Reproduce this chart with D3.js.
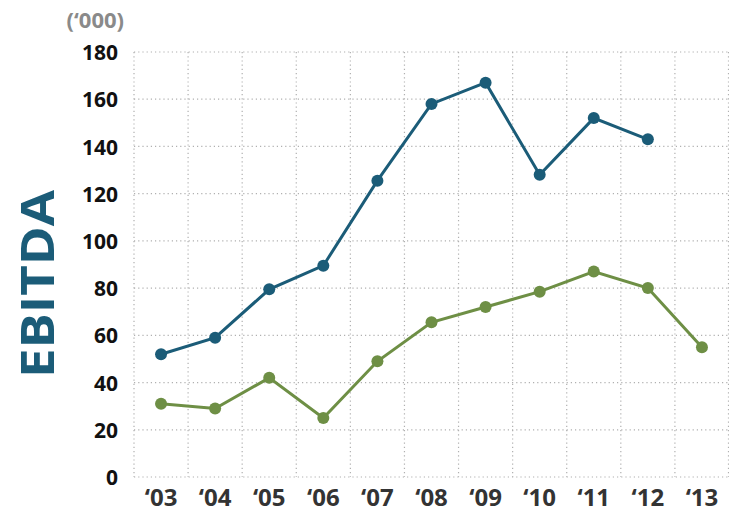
<!DOCTYPE html>
<html><head><meta charset="utf-8">
<script src="https://cdn.jsdelivr.net/npm/d3@7"></script>
<style>body{margin:0;background:#fff}svg{display:block}</style>
</head><body>
<svg id="c" width="729" height="512"></svg>
<script>
const years = ["‘03","‘04","‘05","‘06","‘07","‘08","‘09","‘10","‘11","‘12","‘13"];
const blueSeries = [52, 59, 79.5, 89.5, 125.5, 158, 167, 128, 152, 143, null];
const greenSeries = [31, 29, 42, 25, 49, 65.5, 72, 78.5, 87, 80, 55];
const yTicks = [0, 20, 40, 60, 80, 100, 120, 140, 160, 180];

const svg = d3.select("#c");
const L = 134, R = 729, T = 52, B = 477;
const x = d3.scaleBand().domain(years).range([L, R]);
const y = d3.scaleLinear().domain([0, 180]).range([B, T]);
const font = "'Open Sans', sans-serif";

// grid
const grid = svg.append("g").attr("stroke", "#b0b0b0").attr("stroke-width", 1.2).attr("stroke-dasharray", "1.2,3");
grid.selectAll(".h").data(yTicks).join("line")
  .attr("x1", L).attr("x2", R).attr("y1", d => y(d)).attr("y2", d => y(d));
const vx = years.map(d => x(d)).concat([R - 0.5]);
grid.selectAll(".v").data(vx).join("line")
  .attr("x1", d => d).attr("x2", d => d).attr("y1", T).attr("y2", B);

// y axis
const ya = svg.append("g").attr("transform", `translate(${L - 16},0)`)
  .call(d3.axisLeft(y).tickValues(yTicks).tickSize(0).tickPadding(0));
ya.select(".domain").remove();
ya.selectAll("text").attr("font-family", font).attr("font-weight", 700).attr("font-size", 21).attr("fill", "#111").attr("dy", "0.36em");

// x axis
const xa = svg.append("g").attr("transform", `translate(0,${B})`)
  .call(d3.axisBottom(x).tickSize(0).tickPadding(0));
xa.select(".domain").remove();
xa.selectAll("text").attr("font-family", font).attr("font-weight", 700).attr("font-size", 24).attr("fill", "#333").attr("y", 29).attr("dy", 0);

// unit label
svg.append("text").attr("x", 124).attr("y", 28).attr("text-anchor", "end")
  .attr("font-family", font).attr("font-weight", 700).attr("font-size", 22).attr("fill", "#8a8a8a").text("(‘000)");

// EBITDA
svg.append("text").attr("transform", "translate(54,284) rotate(-90)").attr("text-anchor", "middle")
  .attr("font-family", font).attr("font-weight", 700).attr("font-size", 47).attr("fill", "#1b5c78")
  .attr("textLength", 188).attr("lengthAdjust", "spacingAndGlyphs").text("EBITDA");

function drawSeries(vals, color) {
  const pts = years.map((yr, i) => ({yr, v: vals[i]})).filter(d => d.v != null);
  const line = d3.line().x(d => x(d.yr) + x.bandwidth() / 2).y(d => y(d.v));
  svg.append("path").datum(pts).attr("d", line).attr("fill", "none").attr("stroke", color).attr("stroke-width", 3);
  svg.append("g").selectAll("circle").data(pts).join("circle")
    .attr("cx", d => x(d.yr) + x.bandwidth() / 2).attr("cy", d => y(d.v)).attr("r", 6).attr("fill", color);
}
drawSeries(greenSeries, "#6e8f45");
drawSeries(blueSeries, "#1b5c78");
</script>
</body></html>
